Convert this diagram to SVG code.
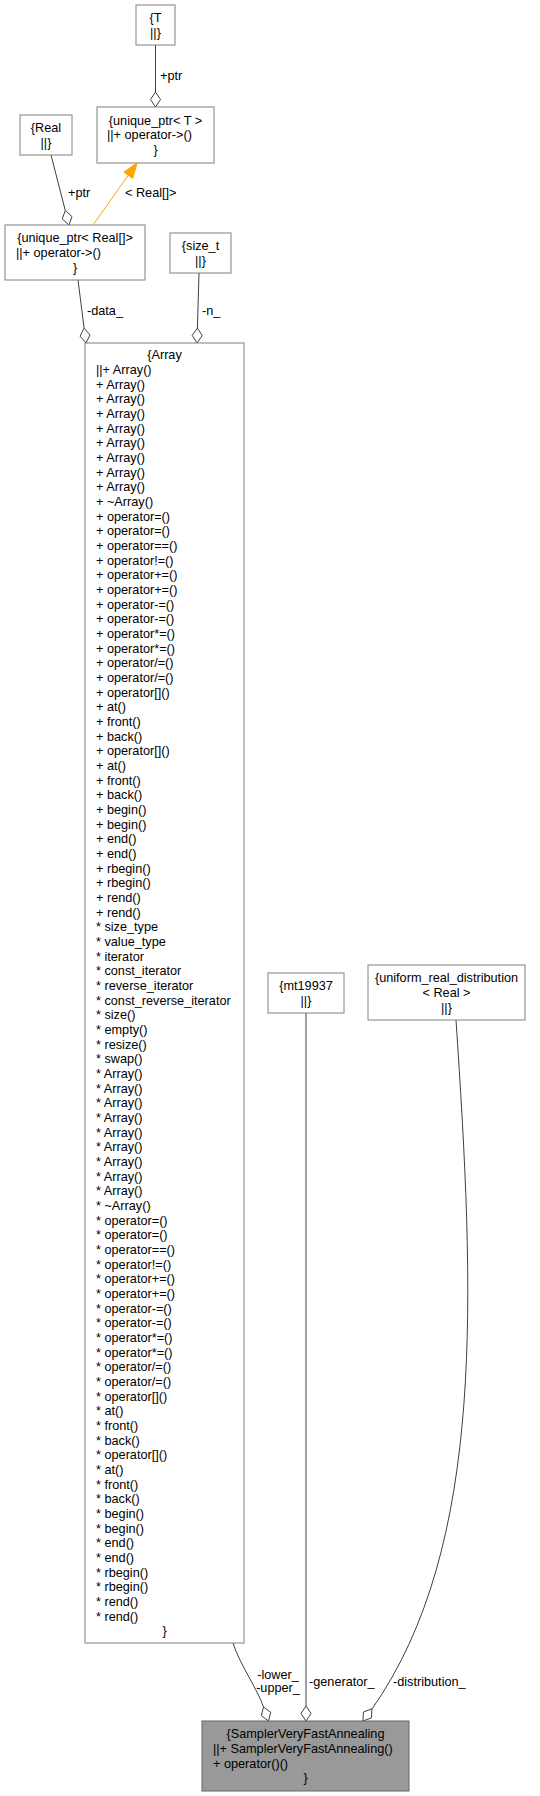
<svg xmlns="http://www.w3.org/2000/svg" width="540" height="1796" viewBox="0 0 540 1796">
<style>
text{font-family:"Liberation Sans",Arial,sans-serif;font-size:12.7px;fill:#000}
.m{text-anchor:middle}
.box{fill:#fff;stroke:#808080;stroke-width:1}
.hl{fill:#999;stroke:#666;stroke-width:1}
.e{fill:none;stroke:#404040;stroke-width:1}
.d{fill:#fff;stroke:#404040;stroke-width:1}
.o{fill:none;stroke:#ffa500;stroke-width:1}
.oh{fill:#ffa500;stroke:#ffa500;stroke-width:1}
</style>
<rect width="540" height="1796" fill="#fff"/>
<g id="connectors">
<path class="e" d="M155.5,45 L155.5,92"/>
<polygon class="d" points="155.5,107 160.5,99.5 155.5,92 150.5,99.5"/>
<text x="160" y="80.3">+ptr</text>
<path class="e" d="M51,155 L65.3,210.5"/>
<polygon class="d" points="69,225 71.97,216.5 65.26,210.48 62.29,218.99"/>
<text x="68" y="197.3">+ptr</text>
<path class="o" d="M93,225 L128.3,175.2"/>
<polygon class="oh" points="137,163 132.79,178.41 123.83,172.05"/>
<text x="125" y="197.3">&lt; Real[]&gt;</text>
<path class="e" d="M78,280 L84.1,328.1"/>
<polygon class="d" points="86,343 90.02,334.93 84.11,328.12 80.1,336.19"/>
<text x="87" y="315.3">-data_</text>
<path class="e" d="M199,273 L197.4,328"/>
<polygon class="d" points="197,343 202.21,335.64 197.43,328 192.21,335.36"/>
<text x="202" y="315.3">-n_</text>
<path class="e" d="M233,1643 C240,1665 257,1688 263.5,1707"/>
<polygon class="d" points="268.5,1721 270.7,1712.3 263.5,1707 261.3,1715.7"/>
<text class="m" x="278" y="1679.3">-lower_</text>
<text class="m" x="278" y="1692.3">-upper_</text>
<path class="e" d="M306,1013 L306,1706"/>
<polygon class="d" points="306,1721 311,1713.5 306,1706 301,1713.5"/>
<text x="309" y="1686.3">-generator_</text>
<path class="e" d="M456,1020 C474,1290 487,1545 372,1709"/>
<polygon class="d" points="363,1721 371.48,1717.92 371.9,1708.9 363.42,1711.98"/>
<text x="393" y="1686.3">-distribution_</text>
</g>
<g id="node_T">
<rect class="box" x="136" y="5" width="39" height="40"/>
<text class="m" x="155.5" y="22">{T</text>
<text class="m" x="155.5" y="36.6">||}</text>
</g>
<g id="node_unique_ptr_T">
<rect class="box" x="97" y="107" width="117" height="56"/>
<text class="m" x="155.5" y="124.6">{unique_ptr&lt; T &gt;</text>
<text x="107" y="139.3">||+ operator-&gt;()</text>
<text class="m" x="155.5" y="154">}</text>
</g>
<g id="node_Real">
<rect class="box" x="20" y="115" width="52" height="40"/>
<text class="m" x="46" y="132">{Real</text>
<text class="m" x="46" y="146.6">||}</text>
</g>
<g id="node_unique_ptr_Real">
<rect class="box" x="5" y="225" width="140" height="55"/>
<text class="m" x="75" y="242.1">{unique_ptr&lt; Real[]&gt;</text>
<text x="16" y="256.8">||+ operator-&gt;()</text>
<text class="m" x="75" y="271.5">}</text>
</g>
<g id="node_size_t">
<rect class="box" x="170" y="233" width="61" height="40"/>
<text class="m" x="200.5" y="250">{size_t</text>
<text class="m" x="200.5" y="264.6">||}</text>
</g>
<g id="node_Array">
<rect class="box" x="85" y="343" width="159" height="1300"/>
<text><tspan class="m" x="164.5" y="359.2">{Array</tspan><tspan x="96" dy="14.67">||+ Array()</tspan><tspan x="96" dy="14.67">+ Array()</tspan><tspan x="96" dy="14.67">+ Array()</tspan><tspan x="96" dy="14.67">+ Array()</tspan><tspan x="96" dy="14.67">+ Array()</tspan><tspan x="96" dy="14.67">+ Array()</tspan><tspan x="96" dy="14.67">+ Array()</tspan><tspan x="96" dy="14.67">+ Array()</tspan><tspan x="96" dy="14.67">+ Array()</tspan><tspan x="96" dy="14.67">+ ~Array()</tspan><tspan x="96" dy="14.67">+ operator=()</tspan><tspan x="96" dy="14.67">+ operator=()</tspan><tspan x="96" dy="14.67">+ operator==()</tspan><tspan x="96" dy="14.67">+ operator!=()</tspan><tspan x="96" dy="14.67">+ operator+=()</tspan><tspan x="96" dy="14.67">+ operator+=()</tspan><tspan x="96" dy="14.67">+ operator-=()</tspan><tspan x="96" dy="14.67">+ operator-=()</tspan><tspan x="96" dy="14.67">+ operator*=()</tspan><tspan x="96" dy="14.67">+ operator*=()</tspan><tspan x="96" dy="14.67">+ operator/=()</tspan><tspan x="96" dy="14.67">+ operator/=()</tspan><tspan x="96" dy="14.67">+ operator[]()</tspan><tspan x="96" dy="14.67">+ at()</tspan><tspan x="96" dy="14.67">+ front()</tspan><tspan x="96" dy="14.67">+ back()</tspan><tspan x="96" dy="14.67">+ operator[]()</tspan><tspan x="96" dy="14.67">+ at()</tspan><tspan x="96" dy="14.67">+ front()</tspan><tspan x="96" dy="14.67">+ back()</tspan><tspan x="96" dy="14.67">+ begin()</tspan><tspan x="96" dy="14.67">+ begin()</tspan><tspan x="96" dy="14.67">+ end()</tspan><tspan x="96" dy="14.67">+ end()</tspan><tspan x="96" dy="14.67">+ rbegin()</tspan><tspan x="96" dy="14.67">+ rbegin()</tspan><tspan x="96" dy="14.67">+ rend()</tspan><tspan x="96" dy="14.67">+ rend()</tspan><tspan x="96" dy="14.67">* size_type</tspan><tspan x="96" dy="14.67">* value_type</tspan><tspan x="96" dy="14.67">* iterator</tspan><tspan x="96" dy="14.67">* const_iterator</tspan><tspan x="96" dy="14.67">* reverse_iterator</tspan><tspan x="96" dy="14.67">* const_reverse_iterator</tspan><tspan x="96" dy="14.67">* size()</tspan><tspan x="96" dy="14.67">* empty()</tspan><tspan x="96" dy="14.67">* resize()</tspan><tspan x="96" dy="14.67">* swap()</tspan><tspan x="96" dy="14.67">* Array()</tspan><tspan x="96" dy="14.67">* Array()</tspan><tspan x="96" dy="14.67">* Array()</tspan><tspan x="96" dy="14.67">* Array()</tspan><tspan x="96" dy="14.67">* Array()</tspan><tspan x="96" dy="14.67">* Array()</tspan><tspan x="96" dy="14.67">* Array()</tspan><tspan x="96" dy="14.67">* Array()</tspan><tspan x="96" dy="14.67">* Array()</tspan><tspan x="96" dy="14.67">* ~Array()</tspan><tspan x="96" dy="14.67">* operator=()</tspan><tspan x="96" dy="14.67">* operator=()</tspan><tspan x="96" dy="14.67">* operator==()</tspan><tspan x="96" dy="14.67">* operator!=()</tspan><tspan x="96" dy="14.67">* operator+=()</tspan><tspan x="96" dy="14.67">* operator+=()</tspan><tspan x="96" dy="14.67">* operator-=()</tspan><tspan x="96" dy="14.67">* operator-=()</tspan><tspan x="96" dy="14.67">* operator*=()</tspan><tspan x="96" dy="14.67">* operator*=()</tspan><tspan x="96" dy="14.67">* operator/=()</tspan><tspan x="96" dy="14.67">* operator/=()</tspan><tspan x="96" dy="14.67">* operator[]()</tspan><tspan x="96" dy="14.67">* at()</tspan><tspan x="96" dy="14.67">* front()</tspan><tspan x="96" dy="14.67">* back()</tspan><tspan x="96" dy="14.67">* operator[]()</tspan><tspan x="96" dy="14.67">* at()</tspan><tspan x="96" dy="14.67">* front()</tspan><tspan x="96" dy="14.67">* back()</tspan><tspan x="96" dy="14.67">* begin()</tspan><tspan x="96" dy="14.67">* begin()</tspan><tspan x="96" dy="14.67">* end()</tspan><tspan x="96" dy="14.67">* end()</tspan><tspan x="96" dy="14.67">* rbegin()</tspan><tspan x="96" dy="14.67">* rbegin()</tspan><tspan x="96" dy="14.67">* rend()</tspan><tspan x="96" dy="14.67">* rend()</tspan><tspan class="m" x="164.5" dy="14.67">}</tspan></text>
</g>
<g id="node_mt19937">
<rect class="box" x="268" y="973" width="76" height="40"/>
<text class="m" x="306" y="990">{mt19937</text>
<text class="m" x="306" y="1004.6">||}</text>
</g>
<g id="node_uniform_real_distribution">
<rect class="box" x="368" y="965" width="157" height="55"/>
<text class="m" x="446.5" y="982.1">{uniform_real_distribution</text>
<text class="m" x="446.5" y="996.8">&lt; Real &gt;</text>
<text class="m" x="446.5" y="1011.5">||}</text>
</g>
<g id="node_SamplerVeryFastAnnealing">
<rect class="hl" x="202" y="1721" width="207" height="70"/>
<text class="m" x="305.5" y="1738.3">{SamplerVeryFastAnnealing</text>
<text x="213" y="1753">||+ SamplerVeryFastAnnealing()</text>
<text x="213" y="1767.6">+ operator()()</text>
<text class="m" x="305.5" y="1782.3">}</text>
</g>
</svg>
